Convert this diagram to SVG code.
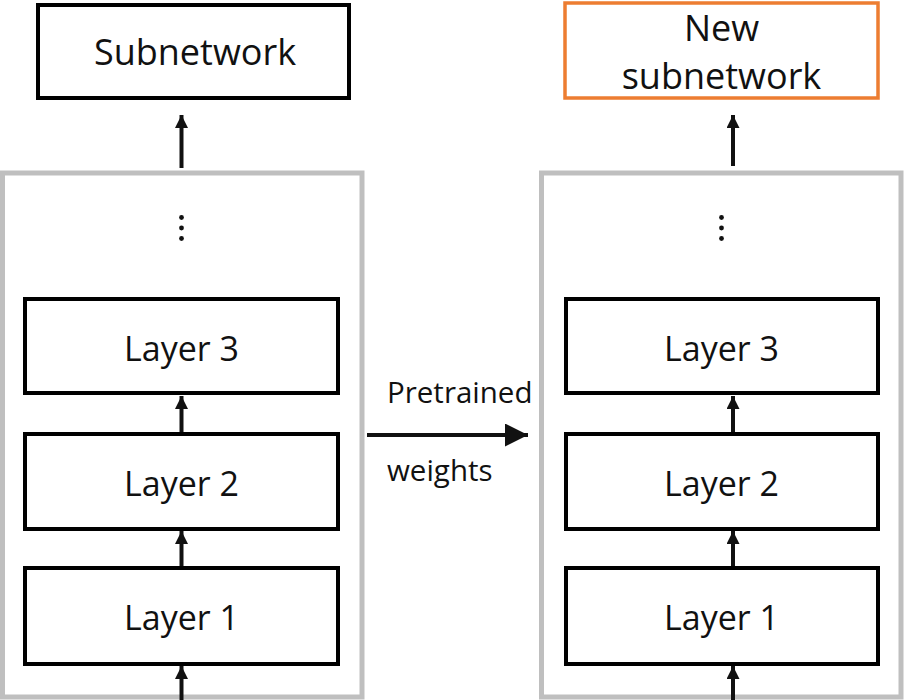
<svg xmlns="http://www.w3.org/2000/svg" width="904" height="700" viewBox="0 0 904 700">
<defs>
<style>
.cont{fill:#fff;stroke:#BFBFBF;stroke-width:5}
.box{fill:#fff;stroke:#000;stroke-width:4}
.obox{fill:#fff;stroke:#ED7D31;stroke-width:3.5}
.lbl{font-family:"Open Sans","Noto Sans",sans-serif;fill:#111;text-anchor:middle}
.big{font-size:34px}
.head{font-size:36px}
.side{font-size:29.5px;text-anchor:start}
.edge{stroke:#111;stroke-width:4;fill:none}
.dot{fill:#111}
</style>
<marker id="ah" markerUnits="userSpaceOnUse" markerWidth="14" markerHeight="13" refX="13" refY="6.5" orient="auto">
<path d="M0,0 L13,6.5 L0,13 z" fill="#111"/>
</marker>
<marker id="ahBig" markerUnits="userSpaceOnUse" markerWidth="24" markerHeight="23" refX="23" refY="11.5" orient="auto">
<path d="M0,0 L23,11.5 L0,23 z" fill="#111"/>
</marker>
</defs>
<rect width="904" height="700" fill="#fff"/>
<g id="left-container"><rect class="cont" x="2.5" y="173" width="359.5" height="524"/>
<circle class="dot" cx="181.5" cy="217.5" r="2.4"/><circle class="dot" cx="181.5" cy="228" r="2.4"/><circle class="dot" cx="181.5" cy="238.5" r="2.4"/></g>
<g id="right-container"><rect class="cont" x="541.5" y="173" width="359.5" height="524"/>
<circle class="dot" cx="721.5" cy="217.5" r="2.4"/><circle class="dot" cx="721.5" cy="228" r="2.4"/><circle class="dot" cx="721.5" cy="238.5" r="2.4"/></g>
<g id="subnetwork"><rect class="box" x="38" y="5" width="311" height="93"/><text class="lbl head" x="195" y="65">Subnetwork</text></g>
<g id="new-subnetwork"><rect class="obox" x="565" y="3" width="313" height="95"/><text class="lbl head" x="721.5" y="41">New</text><text class="lbl head" x="721.5" y="89">subnetwork</text></g>
<g id="l-layer3"><rect class="box" x="25" y="299" width="313" height="94"/><text class="lbl big" x="181.5" y="361">Layer 3</text></g>
<g id="l-layer2"><rect class="box" x="25" y="434" width="313" height="95"/><text class="lbl big" x="181.5" y="496">Layer 2</text></g>
<g id="l-layer1"><rect class="box" x="25" y="568" width="313" height="96"/><text class="lbl big" x="181.5" y="630">Layer 1</text></g>
<g id="r-layer3"><rect class="box" x="566" y="299" width="312" height="94"/><text class="lbl big" x="721.5" y="361">Layer 3</text></g>
<g id="r-layer2"><rect class="box" x="566" y="434" width="312" height="95"/><text class="lbl big" x="721.5" y="496">Layer 2</text></g>
<g id="r-layer1"><rect class="box" x="566" y="568" width="312" height="96"/><text class="lbl big" x="721.5" y="630">Layer 1</text></g>
<g id="transfer-label"><text class="lbl side" x="387" y="403">Pretrained</text><text class="lbl side" x="387" y="481">weights</text></g>
<g id="connectors">
<line class="edge" x1="181.5" y1="168" x2="181.5" y2="115" marker-end="url(#ah)"/>
<line class="edge" x1="733" y1="166" x2="733" y2="115" marker-end="url(#ah)"/>
<line class="edge" x1="181.5" y1="432" x2="181.5" y2="396" marker-end="url(#ah)"/>
<line class="edge" x1="181.5" y1="566" x2="181.5" y2="531" marker-end="url(#ah)"/>
<line class="edge" x1="181.5" y1="700" x2="181.5" y2="666" marker-end="url(#ah)"/>
<line class="edge" x1="733" y1="432" x2="733" y2="396" marker-end="url(#ah)"/>
<line class="edge" x1="733" y1="566" x2="733" y2="531" marker-end="url(#ah)"/>
<line class="edge" x1="733" y1="700" x2="733" y2="666" marker-end="url(#ah)"/>
<line class="edge" x1="367" y1="435" x2="528" y2="435" marker-end="url(#ahBig)"/>
</g>
</svg>
